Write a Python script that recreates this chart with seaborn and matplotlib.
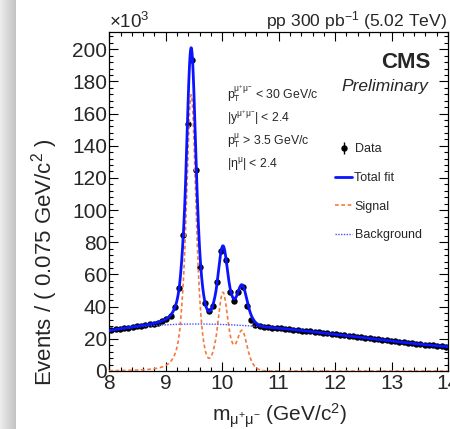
import numpy as np
import pandas as pd
import matplotlib
matplotlib.use("Agg")
import matplotlib.pyplot as plt
import seaborn as sns
from matplotlib.ticker import MultipleLocator
from matplotlib.lines import Line2D

# ---------------- data (events x 10^3 per 0.075 GeV/c^2 bin) ----------------
mass_min = 8.0
mass_max = 14.0
bin_width = 0.075
data_counts = [
    25.3, 25.8, 26.2, 26.6, 27.0, 27.4, 27.8, 28.1, 28.5, 29.0,
    29.5, 30.1, 31.0, 32.6, 34.4, 39.5, 51.5, 84.7, 153.4, 193.3,
    125.0, 64.5, 42.1, 37.2, 40.6, 55.1, 74.6, 69.0, 49.3, 43.6,
    48.9, 52.0, 40.6, 31.7, 28.4, 27.8, 27.4, 27.2, 27.0, 26.7,
    26.5, 26.2, 26.0, 25.7, 25.4, 25.1, 24.9, 24.6, 24.3, 24.0,
    23.7, 23.4, 23.1, 22.8, 22.4, 22.1, 21.8, 21.5, 21.2, 20.9,
    20.5, 20.2, 19.9, 19.6, 19.3, 19.0, 18.7, 18.4, 18.1, 17.8,
    17.5, 17.2, 16.9, 16.7, 16.4, 16.2, 15.9, 15.7, 15.4, 15.2,
]

# ---------------- fit model parameters ----------------
peak_mass = [9.45, 10.012, 10.352]      # Y(1S), Y(2S), Y(3S)
peak_height = [171.0, 47.7, 24.6]
sigma_narrow = 0.065
sigma_wide = 0.12
frac_narrow = 0.5
cb_alpha = 1.6
cb_n = 2.5
bkg_coeffs = [24.9, 5.970, -2.3368, 0.1783]   # polynomial in (m - 8)

x_ticks = [8, 9, 10, 11, 12, 13, 14]
y_ticks = [0, 20, 40, 60, 80, 100, 120, 140, 160, 180, 200]
y_max = 210.5


def crystal_ball(t, a, n):
    A = (n / a) ** n * np.exp(-a * a / 2.0)
    B = n / a - a
    tail = A * np.clip(B - t, 1e-9, None) ** (-n)
    return np.where(t > -a, np.exp(-t * t / 2.0), tail)


def signal_model(m):
    s = np.zeros_like(m)
    for mu, h in zip(peak_mass, peak_height):
        scale = mu / peak_mass[0]
        s1 = crystal_ball((m - mu) / (sigma_narrow * scale), cb_alpha, cb_n)
        s2 = crystal_ball((m - mu) / (sigma_wide * scale), cb_alpha, cb_n)
        s += h * (frac_narrow * s1 + (1 - frac_narrow) * s2)
    return s


def bkg_model(m):
    u = m - mass_min
    return sum(c * u ** i for i, c in enumerate(bkg_coeffs))


# ---------------- style ----------------
sns.set_theme(style="white")
plt.rcParams['font.family'] = ['Liberation Sans', 'DejaVu Sans']
plt.rcParams['mathtext.fontset'] = 'custom'
plt.rcParams['mathtext.rm'] = 'Liberation Sans'
plt.rcParams['mathtext.it'] = 'Liberation Sans:italic'
plt.rcParams['mathtext.bf'] = 'Liberation Sans:bold'
plt.rcParams['mathtext.default'] = 'regular'

W, H = 450, 429
fig = plt.figure(figsize=(W / 100, H / 100), dpi=100)
fig.patch.set_facecolor('white')


def fx(px):
    return px / W


def fy(py):
    return 1 - py / H


# window-shadow strip on the left
strip = fig.add_axes([0, 0, fx(16), 1])
grad = np.linspace(0.93, 0.76, 64)[None, :]
strip.imshow(grad, cmap='gray', vmin=0, vmax=1, aspect='auto', extent=[0, 1, 0, 1])
strip.set_axis_off()

ax = fig.add_axes([fx(109.3), fy(371), fx(448) - fx(109.3), fy(32.3) - fy(371)])
ax.set_facecolor('white')

centers = mass_min + bin_width * (np.arange(len(data_counts)) + 0.5)
counts = np.array(data_counts)
errors = np.sqrt(counts * 1000.0) / 1000.0

grid = np.linspace(mass_min, mass_max, 1601)
df = pd.DataFrame({'m': grid})
df['signal'] = signal_model(grid)
df['bkg'] = bkg_model(grid)
df['total'] = df['signal'] + df['bkg']

eb = ax.errorbar(centers, counts, yerr=errors, fmt='o', color='black', ms=4.6,
                 mew=0, elinewidth=1.0, capsize=0, zorder=2)

sns.lineplot(data=df, x='m', y='signal', ax=ax, color='#f7783a', lw=1.2,
             linestyle=(0, (2.2, 1.6)), zorder=3, legend=False)
sns.lineplot(data=df, x='m', y='bkg', ax=ax, color='#4a55ff', lw=1.0,
             linestyle=(0, (1.0, 1.0)), zorder=3, legend=False)
sns.lineplot(data=df, x='m', y='total', ax=ax, color='#0a14ff', lw=2.0,
             zorder=4, legend=False)

ax.set_xlim(mass_min, mass_max)
ax.set_ylim(0, y_max)
ax.set_xticks(x_ticks)
ax.set_yticks(y_ticks)
ax.xaxis.set_minor_locator(MultipleLocator(0.2))
ax.yaxis.set_minor_locator(MultipleLocator(4))
ax.tick_params(which='both', direction='in', top=True, right=True,
               bottom=True, left=True, color='black', width=0.8)
ax.tick_params(which='major', length=6.5, labelsize=15)
ax.tick_params(which='minor', length=3.2)
ax.tick_params(axis='y', which='major', pad=1.5)
ax.tick_params(axis='x', which='major', pad=2.5)
for sp in ax.spines.values():
    sp.set_color('black')
    sp.set_linewidth(0.9)
ax.set_xlabel('')
ax.set_ylabel('')

# axis titles
fig.text(fx(45), fy(262), 'Events / ( 0.075 GeV/c$^{2}$ )', rotation=90,
         fontsize=16, ha='center', va='center')
fig.text(fx(280), fy(421), r'm$_{\mu^{+}\mu^{-}}$ (GeV/c$^{2}$)',
         fontsize=15, ha='center', va='baseline')

# header texts
fig.text(fx(109), fy(28), '×10$^{3}$', fontsize=13.5, ha='left', va='baseline')
fig.text(fx(447), fy(26), 'pp 300 pb$^{-1}$ (5.02 TeV)', fontsize=12.6,
         ha='right', va='baseline')
fig.text(fx(430), fy(68), 'CMS', fontsize=16, fontweight='bold',
         ha='right', va='baseline')
fig.text(fx(428), fy(91), 'Preliminary', fontsize=12.5, style='italic',
         ha='right', va='baseline')

# selection cuts
cut_lines = [
    r'p$_{T}^{\mu^{+}\mu^{-}}$ < 30 GeV/c',
    r'|y$^{\mu^{+}\mu^{-}}$| < 2.4',
    r'p$_{T}^{\mu}$ > 3.5 GeV/c',
    r'|$\eta^{\mu}$| < 2.4',
]
for txt, yb in zip(cut_lines, [98.3, 122.3, 145.0, 168.3]):
    fig.text(fx(227), fy(yb), txt, fontsize=8.8, ha='left', va='baseline')

# legend
handles = [
    eb,
    Line2D([], [], color='#0a14ff', lw=2.0),
    Line2D([], [], color='#f7783a', lw=1.2, linestyle=(0, (2.2, 1.6))),
    Line2D([], [], color='#4a55ff', lw=1.0, linestyle=(0, (1.0, 1.0))),
]
labels = ['Data', 'Total fit', 'Signal', 'Background']
fig.legend(handles, labels, loc='upper left', bbox_to_anchor=(fx(335), fy(143.5)),
           frameon=False, fontsize=9, borderpad=0, borderaxespad=0,
           handlelength=1.36, handletextpad=0.2, labelspacing=1.33)

fig.savefig('out.png', dpi=100)
